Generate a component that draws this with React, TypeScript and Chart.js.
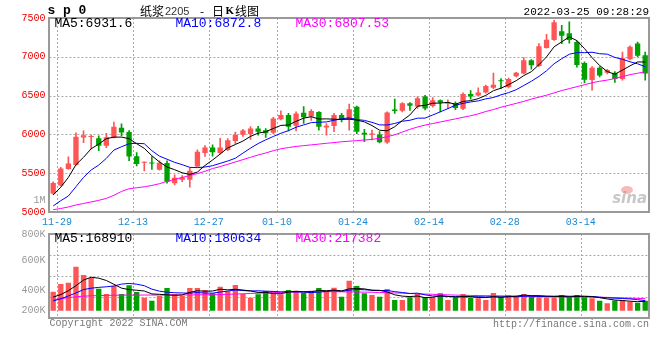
import React, { useEffect, useRef } from 'react';
import { Chart, registerables } from 'chart.js';
Chart.register(...registerables);

const FONT = "'Liberation Mono', 'DejaVu Sans Mono', monospace";
const RED = '#ff5555';
const GREEN = '#00a000';
const GRID = '#a8a8a8';
const FRAME = '#999999';

// ---- data ----
const dateLabels = ['11-29', '12-13', '12-27', '01-10', '01-24', '02-14', '02-28', '03-14'];
const dateIndices = [0, 10, 20, 29, 39, 49, 59, 69];
const priceTicks = [5000, 5500, 6000, 6500, 7000, 7500];
const volTickValues = [0, 360000, 912600, 1380600];
const volTickLabels = ['200K', '400K', '600K', '800K'];
const priceMaLabels = ['MA5:6931.6', 'MA10:6872.8', 'MA30:6807.53'];
const volMaLabels = ['MA5:168910', 'MA10:180634', 'MA30:217382'];

const opens = [
  5240, 5340, 5555, 5605, 5960, 5968, 5950, 5855, 5958, 6085,
  6030, 5720, 5635, 5632, 5545, 5630, 5370, 5415, 5415, 5585,
  5760, 5830, 5760, 5800, 5915, 5995, 6005, 6075, 6055, 6020,
  6195, 6250, 6110, 6280, 6230, 6290, 6090, 6107, 6250, 6185,
  6355, 6020, 5995, 6000, 5897, 6320, 6305, 6400, 6360, 6490,
  6365, 6440, 6395, 6400, 6330, 6520, 6500, 6540, 6600, 6695,
  6610, 6750, 6785, 6955, 6880, 7115, 7215, 7330, 7305, 7190,
  6920, 6700, 6860, 6795, 6795, 6715, 6970, 7170, 7020,
];
const closes = [
  5375, 5560, 5625, 5970, 5990, 5975, 5855, 5962, 6100, 6025,
  5715, 5620, 5642, 5625, 5635, 5390, 5440, 5445, 5530, 5775,
  5830, 5770, 5830, 5925, 5995, 6050, 6075, 6035, 6015, 6205,
  6250, 6100, 6270, 6220, 6300, 6100, 6110, 6250, 6200, 6325,
  6035, 6000, 6010, 5900, 6283, 6300, 6400, 6370, 6465, 6335,
  6440, 6410, 6415, 6340, 6520, 6488, 6540, 6625, 6640, 6685,
  6715, 6795, 6955, 6890, 7135, 7220, 7445, 7270, 7215, 6895,
  6705, 6860, 6760, 6830, 6715, 6980, 7128, 7015, 6785,
];
const highs = [
  5390, 5575, 5710, 6020, 6045, 5990, 5980, 6014, 6160, 6135,
  6050, 5765, 5645, 5715, 5660, 5660, 5480, 5470, 5565, 5800,
  5855, 5865, 5950, 5945, 6030, 6065, 6100, 6105, 6075, 6220,
  6305, 6270, 6290, 6360, 6320, 6295, 6140, 6270, 6270, 6390,
  6365, 6065, 6055, 6035, 6290, 6455, 6410, 6410, 6485, 6505,
  6475, 6445, 6445, 6420, 6535, 6565, 6600, 6635, 6790, 6720,
  6725, 6800, 6990, 6965, 7170, 7290, 7470, 7405, 7450, 7205,
  6935, 6875, 6875, 6840, 6810, 7060, 7140, 7190, 7060,
];
const lows = [
  5230, 5335, 5550, 5600, 5895, 5810, 5790, 5830, 5955, 5980,
  5660, 5595, 5530, 5550, 5540, 5370, 5350, 5390, 5320, 5580,
  5715, 5720, 5750, 5790, 5880, 5975, 5935, 5990, 5960, 6010,
  6185, 6045, 6045, 6140, 6180, 6055, 5990, 6035, 6160, 6055,
  6010, 5905, 5930, 5890, 5885, 6270, 6290, 6310, 6335, 6315,
  6350, 6290, 6330, 6320, 6320, 6455, 6500, 6530, 6590, 6590,
  6600, 6740, 6780, 6840, 6875, 7110, 7210, 7170, 7175, 6865,
  6665, 6570, 6740, 6780, 6670, 6700, 6960, 7000, 6700,
];
const ma5 = [
  5220, 5320, 5445, 5610, 5705, 5815, 5875, 5945, 5965, 5965,
  5945, 5880, 5820, 5725, 5645, 5580, 5545, 5505, 5485, 5515,
  5600, 5670, 5747, 5826, 5870, 5914, 5975, 6016, 6034, 6076,
  6116, 6121, 6168, 6209, 6228, 6198, 6200, 6196, 6192, 6197,
  6184, 6162, 6114, 6054, 6046, 6099, 6179, 6251, 6364, 6374,
  6402, 6404, 6413, 6388, 6425, 6435, 6461, 6503, 6563, 6596,
  6641, 6692, 6758, 6808, 6898, 6999, 7129, 7192, 7257, 7209,
  7106, 6989, 6887, 6810, 6774, 6829, 6883, 6934, 6932,
];
const ma10 = [
  5078, 5146, 5206, 5326, 5447, 5541, 5605, 5691, 5798, 5841,
  5880, 5885, 5880, 5790, 5720, 5680, 5640, 5610, 5575, 5572,
  5580, 5597, 5627, 5657, 5693, 5759, 5823, 5882, 5930, 5973,
  6015, 6048, 6092, 6122, 6152, 6157, 6161, 6182, 6201, 6213,
  6191, 6181, 6155, 6123, 6121, 6141, 6170, 6182, 6209, 6210,
  6250, 6291, 6332, 6376, 6400, 6418, 6432, 6458, 6475, 6510,
  6538, 6576, 6630, 6685, 6747, 6820, 6911, 6975, 7033, 7054,
  7053, 7059, 7040, 7034, 6992, 6968, 6936, 6910, 6873,
];
const ma30 = [
  5030, 5045, 5065, 5090, 5110, 5130, 5150, 5175, 5215, 5265,
  5300, 5312, 5325, 5342, 5365, 5395, 5420, 5445, 5470, 5495,
  5525, 5560, 5585, 5615, 5645, 5675, 5705, 5735, 5760, 5790,
  5815, 5830, 5845, 5855, 5865, 5875, 5885, 5895, 5905, 5912,
  5920, 5928, 5935, 5950, 5970, 5995, 6030, 6065, 6095, 6120,
  6140, 6160, 6180, 6200, 6220, 6240, 6265, 6295, 6320, 6350,
  6375, 6400, 6425, 6455, 6480, 6505, 6535, 6565, 6590, 6615,
  6640, 6665, 6685, 6700, 6720, 6745, 6770, 6788, 6808,
];
const volumes = [
  342000, 481000, 504000, 792000, 643000, 589000, 396000, 301000, 445000, 301000,
  457000, 337000, 234000, 180000, 265000, 409000, 301000, 265000, 409000, 409000,
  373000, 313000, 432000, 349000, 463000, 301000, 234000, 295000, 355000, 355000,
  295000, 373000, 360000, 324000, 360000, 409000, 349000, 414000, 252000, 540000,
  445000, 313000, 283000, 252000, 391000, 193000, 193000, 241000, 301000, 241000,
  241000, 313000, 193000, 241000, 301000, 229000, 223000, 193000, 319000, 241000,
  283000, 265000, 301000, 265000, 241000, 241000, 241000, 283000, 241000, 283000,
  241000, 223000, 180000, 133000, 185000, 193000, 162000, 144000, 180000,
];
const vma5 = [
  245000, 290000, 360000, 450000, 552000, 602000, 585000, 544000, 475000, 406000,
  380000, 368000, 355000, 302000, 295000, 285000, 278000, 284000, 330000, 359000,
  351000, 354000, 387000, 375000, 386000, 372000, 356000, 328000, 330000, 308000,
  307000, 335000, 348000, 341000, 342000, 365000, 360000, 371000, 357000, 393000,
  400000, 393000, 367000, 367000, 337000, 286000, 262000, 254000, 264000, 234000,
  243000, 267000, 258000, 246000, 258000, 255000, 237000, 237000, 253000, 241000,
  252000, 260000, 282000, 271000, 271000, 263000, 258000, 254000, 249000, 258000,
  258000, 254000, 234000, 212000, 192000, 183000, 171000, 163000, 169000,
];
const vma10 = [
  175000, 215000, 265000, 320000, 380000, 405000, 420000, 430000, 445000, 479000,
  491000, 477000, 450000, 388000, 351000, 333000, 323000, 319000, 316000, 327000,
  318000, 316000, 336000, 353000, 372000, 362000, 355000, 358000, 352000, 347000,
  339000, 345000, 338000, 336000, 325000, 336000, 348000, 359000, 349000, 368000,
  383000, 377000, 369000, 362000, 365000, 343000, 328000, 310000, 315000, 285000,
  265000, 265000, 256000, 255000, 246000, 249000, 252000, 248000, 249000, 249000,
  254000, 249000, 260000, 262000, 256000, 257000, 259000, 268000, 260000, 264000,
  260000, 256000, 244000, 231000, 225000, 220000, 212000, 199000, 181000,
];
const vma30 = [
  200000, 215000, 235000, 250000, 262000, 268000, 272000, 276000, 278000, 280000,
  281000, 282000, 282000, 282000, 282000, 282000, 282000, 283000, 284000, 285000,
  286000, 287000, 290000, 295000, 300000, 305000, 310000, 315000, 320000, 325000,
  330000, 334000, 337000, 339000, 340000, 341000, 342000, 342000, 340000, 338000,
  336000, 334000, 332000, 328000, 324000, 320000, 315000, 310000, 305000, 300000,
  295000, 290000, 285000, 281000, 277000, 275000, 273000, 271000, 269000, 267000,
  265000, 263000, 261000, 259000, 257000, 255000, 253000, 252000, 250000, 248000,
  246000, 244000, 242000, 240000, 236000, 230000, 225000, 221000, 217000,
];

const idx = opens.map((_, i) => i);
const candleColors = idx.map((i) => (closes[i] >= opens[i] ? RED : GREEN));
const pts = (arr: number[]) => idx.map((i) => ({ x: i, y: arr[i] }));

function lineDs(arr: number[], color: string) {
  return {
    type: 'line' as const,
    data: pts(arr),
    borderColor: color,
    backgroundColor: color,
    borderWidth: 1,
    pointRadius: 0,
    tension: 0,
    fill: false,
    order: 0,
  };
}

function makeGridPlugin(hLines: (chart: any) => number[]) {
  return {
    id: 'sinaGrid',
    beforeDatasetsDraw(chart: any) {
      const { ctx, chartArea, scales } = chart;
      const { left, right, top, bottom } = chartArea;
      ctx.save();
      ctx.strokeStyle = GRID;
      ctx.lineWidth = 1;
      ctx.setLineDash([2, 2]);
      dateIndices.forEach((d) => {
        const px = Math.round(scales.x.getPixelForValue(d + 0.5)) + 0.5;
        ctx.beginPath();
        ctx.moveTo(px, top);
        ctx.lineTo(px, bottom);
        ctx.stroke();
      });
      hLines(chart).forEach((py0) => {
        const py = Math.round(py0) + 0.5;
        ctx.beginPath();
        ctx.moveTo(left, py);
        ctx.lineTo(right, py);
        ctx.stroke();
      });
      ctx.restore();
    },
    afterDatasetsDraw(chart: any) {
      const { ctx, chartArea } = chart;
      const { left, right, top, bottom } = chartArea;
      ctx.save();
      ctx.strokeStyle = FRAME;
      ctx.lineWidth = 2;
      ctx.strokeRect(Math.round(left), Math.round(top), Math.round(right - left), Math.round(bottom - top));
      ctx.restore();
    },
  };
}

function text(ctx: CanvasRenderingContext2D, s: string, x: number, y: number, font: string, color: string, align: CanvasTextAlign = 'left') {
  ctx.font = font;
  ctx.fillStyle = color;
  ctx.textAlign = align;
  ctx.textBaseline = 'middle';
  ctx.fillText(s, x, y);
}

const CJK = "'Noto Sans CJK SC', sans-serif";

const mainTextPlugin = {
  id: 'mainText',
  afterDraw(chart: any) {
    const ctx = chart.ctx as CanvasRenderingContext2D;
    const { left, right, bottom } = chart.chartArea;
    ctx.save();
    text(ctx, 's p 0', left - 2, 11, `bold 13px ${FONT}`, '#000');
    text(ctx, '纸浆', 140, 11, `12px ${CJK}`, '#000');
    text(ctx, '2205', 165, 12, "11px 'Liberation Sans', sans-serif", '#333');
    text(ctx, '-', 200, 11, `12px ${CJK}`, '#000');
    text(ctx, '日', 212, 11, `12px ${CJK}`, '#000');
    text(ctx, 'K', 225.5, 11, "bold 11px 'Liberation Serif', serif", '#000');
    text(ctx, '线图', 235, 11, `12px ${CJK}`, '#000');
    text(ctx, '2022-03-25 09:28:29', right, 12, `11px ${FONT}`, '#000', 'right');
    text(ctx, priceMaLabels[0], left + 5, 24, `13px ${FONT}`, '#000');
    text(ctx, priceMaLabels[1], left + 126, 24, `13px ${FONT}`, '#0000ff');
    text(ctx, priceMaLabels[2], left + 246, 24, `13px ${FONT}`, '#ff00ff');
    text(ctx, '1M', left - 4, bottom - 12, `10px ${FONT}`, '#999', 'right');
    // watermark
    ctx.globalAlpha = 0.55;
    ctx.fillStyle = '#f08080';
    ctx.beginPath();
    ctx.ellipse(right - 22, bottom - 22, 6, 4, 0, 0, Math.PI * 2);
    ctx.fill();
    text(ctx, 'sina', right - 2, bottom - 13, "italic bold 15px 'DejaVu Sans', sans-serif", '#999', 'right');
    ctx.globalAlpha = 1;
    text(ctx, 'Copyright 2022 SINA.COM', left, 323, `10px ${FONT}`, '#777');
    text(ctx, 'http://finance.sina.com.cn', right, 324, `10px ${FONT}`, '#777', 'right');
    ctx.restore();
  },
};

const volTextPlugin = {
  id: 'volText',
  afterDraw(chart: any) {
    const ctx = chart.ctx as CanvasRenderingContext2D;
    const { left, top } = chart.chartArea;
    ctx.save();
    text(ctx, volMaLabels[0], left + 5, top + 5, `13px ${FONT}`, '#000');
    text(ctx, volMaLabels[1], left + 126, top + 5, `13px ${FONT}`, '#0000ff');
    text(ctx, volMaLabels[2], left + 246, top + 5, `13px ${FONT}`, '#ff00ff');
    ctx.restore();
  },
};

export default function App() {
  const mainRef = useRef<HTMLCanvasElement>(null);
  const volRef = useRef<HTMLCanvasElement>(null);

  useEffect(() => {
    document.body.style.margin = '0';
    Chart.defaults.font.family = FONT;
    const xBase = {
      type: 'linear' as const,
      min: -0.5,
      max: 78.5,
      offset: false,
      grid: { display: false, drawTicks: false, offset: false },
      border: { display: false },
    };

    const main = new Chart(mainRef.current!, {
      type: 'bar',
      data: {
        datasets: [
          lineDs(ma5, '#000000'),
          lineDs(ma10, '#0000ff'),
          lineDs(ma30, '#ff00ff'),
          {
            type: 'bar',
            data: idx.map((i) => ({ x: i, y: [opens[i], closes[i]] })),
            backgroundColor: candleColors,
            borderWidth: 0,
            grouped: false,
            categoryPercentage: 1,
            barPercentage: 0.7,
            minBarLength: 1,
            order: 1,
          } as any,
          {
            type: 'bar',
            data: idx.map((i) => ({ x: i, y: [lows[i], highs[i]] })),
            backgroundColor: candleColors,
            borderWidth: 0,
            grouped: false,
            categoryPercentage: 1,
            barPercentage: 1,
            maxBarThickness: 1,
            order: 2,
          } as any,
        ],
      },
      options: {
        animation: false,
        responsive: false,
        maintainAspectRatio: false,
        layout: { padding: { top: 18, right: 11, bottom: 128, left: 0 } },
        plugins: { legend: { display: false }, tooltip: { enabled: false } },
        scales: {
          x: {
            ...xBase,
            afterBuildTicks: (s: any) => {
              s.ticks = dateIndices.map((d) => ({ value: d + 0.5 }));
            },
            afterFit: (s: any) => {
              s.height = 20;
            },
            ticks: {
              autoSkip: false,
              maxRotation: 0,
              padding: 4,
              color: '#1e88d0',
              font: { family: FONT, size: 10 },
              callback: (_v: any, i: number) => dateLabels[i],
            },
          },
          y: {
            min: 5000,
            max: 7500,
            grid: { display: false, drawTicks: false },
            border: { display: false },
            afterBuildTicks: (s: any) => {
              s.ticks = priceTicks.map((v) => ({ value: v }));
            },
            afterFit: (s: any) => {
              s.width = 49.4;
            },
            ticks: {
              padding: 4,
              color: '#ee0000',
              font: { family: FONT, size: 10 },
              callback: (v: any) => String(v),
            },
          },
        } as any,
      },
      plugins: [
        makeGridPlugin((c) => priceTicks.slice(1, -1).map((v) => c.scales.y.getPixelForValue(v))),
        mainTextPlugin,
      ],
    });

    const vol = new Chart(volRef.current!, {
      type: 'bar',
      data: {
        datasets: [
          lineDs(vma5, '#000000'),
          lineDs(vma10, '#0000ff'),
          lineDs(vma30, '#ff00ff'),
          {
            type: 'bar',
            data: idx.map((i) => ({ x: i, y: volumes[i] })),
            backgroundColor: candleColors,
            borderWidth: 0,
            grouped: false,
            categoryPercentage: 1,
            barPercentage: 0.7,
            order: 1,
          } as any,
        ],
      },
      options: {
        animation: false,
        responsive: false,
        maintainAspectRatio: false,
        layout: { padding: { top: 234, right: 11, bottom: 42, left: 0 } },
        plugins: { legend: { display: false }, tooltip: { enabled: false } },
        scales: {
          x: { ...xBase, display: false },
          y: {
            min: -131400,
            max: 1380600,
            grid: { display: false, drawTicks: false },
            border: { display: false },
            afterBuildTicks: (s: any) => {
              s.ticks = volTickValues.map((v) => ({ value: v }));
            },
            afterFit: (s: any) => {
              s.width = 49.4;
            },
            ticks: {
              padding: 4,
              color: '#999999',
              font: { family: FONT, size: 10 },
              callback: (_v: any, i: number) => volTickLabels[i],
            },
          },
        } as any,
      },
      plugins: [
        makeGridPlugin((c) => {
          const { top, bottom } = c.chartArea;
          const h = (bottom - top) / 4;
          return [top + h, top + 2 * h, top + 3 * h];
        }),
        volTextPlugin,
      ],
    });

    return () => {
      main.destroy();
      vol.destroy();
    };
  }, []);

  return (
    <div style={{ position: 'relative', width: 660, height: 360, background: '#fff', overflow: 'hidden' }}>
      <canvas ref={mainRef} width={660} height={360} style={{ position: 'absolute', left: 0, top: 0 }} />
      <canvas ref={volRef} width={660} height={360} style={{ position: 'absolute', left: 0, top: 0 }} />
    </div>
  );
}
